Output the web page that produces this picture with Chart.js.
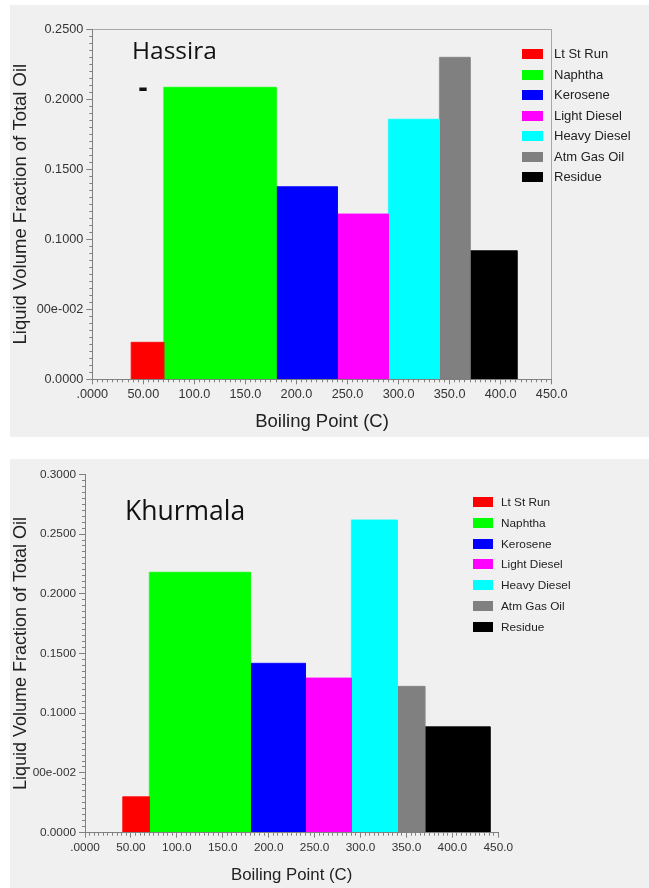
<!DOCTYPE html>
<html><head><meta charset="utf-8">
<script src="https://cdn.jsdelivr.net/npm/chart.js@4/dist/chart.umd.min.js"></script>
<style>
html,body{margin:0;padding:0;background:#fff;}
body{width:649px;height:888px;position:relative;overflow:hidden;font-family:"Liberation Sans",Arial,sans-serif;}
.panel{position:absolute;background:#f0f0f0;}
.panel canvas{position:absolute;left:0;top:0;}
.title{position:absolute;font-family:"Open Sans",sans-serif;color:#111;line-height:1;white-space:nowrap;}
.leg{position:absolute;height:20px;line-height:20px;white-space:nowrap;color:#222;font-family:"Liberation Sans",Arial,sans-serif;}
.leg i{position:absolute;left:0;top:5px;height:10px;}
</style></head><body>
<div class="panel" style="left:10px;top:5px;width:639px;height:432px"><canvas id="c1" width="639" height="432"></canvas></div>
<div class="panel" style="left:10px;top:459px;width:639px;height:429px"><canvas id="c2" width="639" height="429"></canvas></div>
<div class="title" style="left:132px;top:37.5px;font-size:24.5px">Hassira</div>
<div class="title" style="left:138.6px;top:71.8px;font-size:28px;font-weight:700">-</div>
<div class="title" style="left:125px;top:496.5px;font-size:26.5px">Khurmala</div>
<script>
// ---- data ----
const categories = ['Lt St Run','Naphtha','Kerosene','Light Diesel','Heavy Diesel','Atm Gas Oil','Residue'];
const colors = ['#ff0000','#00ff00','#0000ff','#ff00ff','#00ffff','#808080','#000000'];

const hassiraCuts = [38, 70, 180, 240, 290, 340, 370, 416];
const hassiraValues = [0.0264, 0.2084, 0.1375, 0.1180, 0.1856, 0.2298, 0.0918];

const khurmalaCuts = [41, 70, 180, 240, 290, 340, 370, 441];
const khurmalaValues = [0.0301, 0.2180, 0.1418, 0.1295, 0.2618, 0.1225, 0.0887];

const xTickValues = [0, 50, 100, 150, 200, 250, 300, 350, 400, 450];
const xTickLabels = ['.0000','50.00','100.0','150.0','200.0','250.0','300.0','350.0','400.0','450.0'];

const hassiraYTickValues = [0, 0.05, 0.10, 0.15, 0.20, 0.25];
const hassiraYTickLabels = ['0.0000','00e-002','0.1000','0.1500','0.2000','0.2500'];

const khurmalaYTickValues = [0, 0.05, 0.10, 0.15, 0.20, 0.25, 0.30];
const khurmalaYTickLabels = ['0.0000','00e-002','0.1000','0.1500','0.2000','0.2500','0.3000'];

const xTitle = 'Boiling Point (C)';
const yTitle = 'Liquid Volume Fraction of Total Oil';

Chart.defaults.font.family = '"Liberation Sans", Arial, sans-serif';
const AXIS = '#808080';

function makeChart(id, o) {
  const canvas = document.getElementById(id);
  const W = canvas.width, H = canvas.height;
  const datasets = categories.map((name, i) => ({
    label: name,
    data: [
      {x: o.cuts[i], y: 0},
      {x: o.cuts[i], y: o.values[i]},
      {x: o.cuts[i + 1], y: o.values[i]},
      {x: o.cuts[i + 1], y: 0}
    ],
    fill: 'origin',
    backgroundColor: colors[i],
    borderColor: colors[i],
    borderWidth: 0.8,
    pointRadius: 0,
    pointHoverRadius: 0,
    tension: 0
  }));
  const yMax = o.yTicks[o.yTicks.length - 1];
  const scales = {
    x: {
      type: 'linear', position: 'bottom', min: 0, max: 450, weight: 0,
      afterBuildTicks: s => { s.ticks = xTickValues.map(v => ({value: v})); },
      ticks: {autoSkip: false, maxRotation: 0, minRotation: 0, font: {size: o.tickSize}, color: '#333', padding: o.xTickPad,
              callback: (v, i) => xTickLabels[i]},
      grid: {display: true, drawOnChartArea: false, drawTicks: true, tickLength: 5, tickColor: AXIS, tickWidth: 1},
      border: {display: true, color: AXIS, width: 1, z: 1},
      title: {display: true, text: xTitle, color: '#222', font: {size: o.xTitleSize}, padding: {top: 0, bottom: o.xTitlePad}},
      afterFit: s => { s.height = H - o.area.bottom; }
    },
    xMinor: {
      type: 'linear', position: 'bottom', min: 0, max: 450, weight: -1,
      afterBuildTicks: s => { const t = []; for (let v = 0; v <= 450; v += 5) t.push({value: v}); s.ticks = t; },
      ticks: {display: false},
      grid: {display: true, drawOnChartArea: false, drawTicks: true, tickLength: 3, tickColor: AXIS, tickWidth: 1},
      border: {display: false},
      afterFit: s => { s.height = 0; }
    },
    y: {
      type: 'linear', position: 'left', min: 0, max: yMax, weight: 0,
      afterBuildTicks: s => { s.ticks = o.yTicks.map(v => ({value: v})); },
      ticks: {autoSkip: false, font: {size: o.tickSize}, color: '#333', padding: 3,
              callback: (v, i) => o.yLabels[i]},
      grid: {display: true, drawOnChartArea: false, drawTicks: true, tickLength: 6, tickColor: AXIS, tickWidth: 1},
      border: {display: true, color: AXIS, width: 1, z: 1},
      title: {display: true, text: yTitle, color: '#222', font: {size: o.yTitleSize}, padding: {top: 0, bottom: 0}},
      afterFit: s => { s.width = o.area.left; }
    },
    yMinor: {
      type: 'linear', position: 'left', min: 0, max: yMax, weight: -1,
      afterBuildTicks: s => { const t = []; const n = Math.round(yMax / 0.005); for (let k = 0; k <= n; k++) t.push({value: k * 0.005}); s.ticks = t; },
      ticks: {display: false},
      grid: {display: true, drawOnChartArea: false, drawTicks: true, tickLength: 3, tickColor: AXIS, tickWidth: 1},
      border: {display: false},
      afterFit: s => { s.width = 0; }
    }
  };
  if (o.frame) {
    scales.xTop = {
      type: 'linear', position: 'top', min: 0, max: 450,
      ticks: {display: false}, grid: {display: false, drawTicks: false},
      border: {display: true, color: '#a8a8a8', width: 1},
      afterFit: s => { s.height = 0; }
    };
    scales.yRight = {
      type: 'linear', position: 'right', min: 0, max: yMax,
      ticks: {display: false}, grid: {display: false, drawTicks: false},
      border: {display: true, color: '#a8a8a8', width: 1},
      afterFit: s => { s.width = 0; }
    };
  }
  new Chart(canvas, {
    type: 'line',
    data: {datasets},
    options: {
      responsive: false, animation: false, devicePixelRatio: 1, events: [],
      layout: {padding: {left: 0, top: o.area.top, right: W - o.area.right, bottom: 0}},
      plugins: {legend: {display: false}, tooltip: {enabled: false}, title: {display: false}},
      scales
    }
  });
}

makeChart('c1', {
  cuts: hassiraCuts, values: hassiraValues, yTicks: hassiraYTickValues, yLabels: hassiraYTickLabels,
  area: {left: 82.3, top: 24, right: 541.7, bottom: 374.3},
  tickSize: 12.7, xTickPad: 3, xTitleSize: 18.5, yTitleSize: 18.5, xTitlePad: 4.2, frame: true
});
makeChart('c2', {
  cuts: khurmalaCuts, values: khurmalaValues, yTicks: khurmalaYTickValues, yLabels: khurmalaYTickLabels,
  area: {left: 75, top: 15.3, right: 488.3, bottom: 373.7},
  tickSize: 11.8, xTickPad: 3, xTitleSize: 16.8, yTitleSize: 18, xTitlePad: 2.9, frame: false
});

// ---- legends (HTML) ----
function legend(x0, textX, y0, step, size, boxW) {
  categories.forEach((name, i) => {
    const d = document.createElement('div');
    d.className = 'leg';
    d.style.left = x0 + 'px';
    d.style.top = (y0 + i * step - 10) + 'px';
    d.style.fontSize = size + 'px';
    const b = document.createElement('i');
    b.style.width = boxW + 'px';
    b.style.background = colors[i];
    d.appendChild(b);
    const t = document.createElement('span');
    t.style.position = 'absolute';
    t.style.left = (textX - x0) + 'px';
    t.textContent = name;
    d.appendChild(t);
    document.body.appendChild(d);
  });
}
legend(522, 554, 54.3, 20.5, 13, 21);
legend(473, 501, 502.3, 20.7, 11.8, 20);
</script>
</body></html>
